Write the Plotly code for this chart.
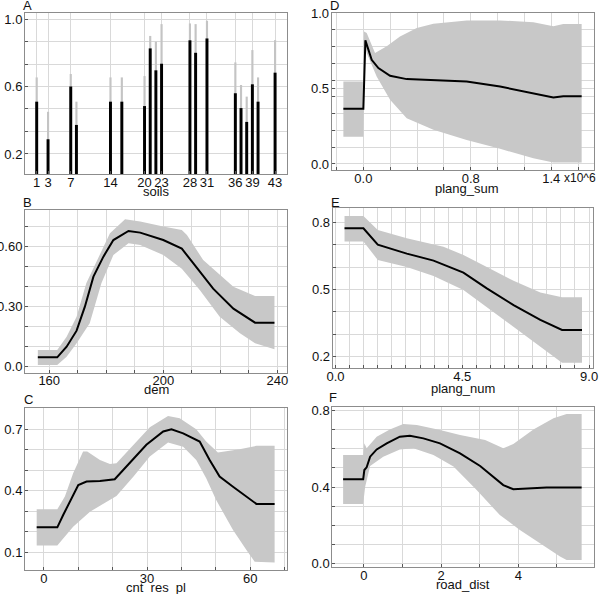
import plotly.graph_objects as go

# ---------------- data ----------------
# Panel A: soils (bar = mean response, gray = upper bound)
soil_cat = [1, 3, 7, 8, 14, 16, 20, 21, 22, 23, 28, 29, 31, 36, 37, 38, 39, 40, 43]
soil_val = [0.51, 0.287, 0.60, 0.372, 0.51, 0.51, 0.484, 0.826, 0.696, 0.735, 0.874, 0.80, 0.885,
            0.56, 0.472, 0.39, 0.613, 0.51, 0.682]
soil_up = [0.654, 0.45, 0.674, 0.51, 0.654, 0.654, 0.662, 0.90, 0.866, 0.97, 0.974, 0.97, 0.99,
           0.743, 0.609, 0.54, 0.816, 0.654, 0.875]
soil_ticks = [1, 3, 7, 14, 20, 23, 28, 31, 36, 39, 43]

# Panel B: dem
dem_x = [156, 162.8, 166.1, 169.6, 172.5, 175.5, 179, 182.5, 187.8, 191.9, 200, 206.5, 210.5, 217.5, 224.6, 232.2, 239]
dem_y = [0.047, 0.047, 0.10, 0.18, 0.30, 0.45, 0.55, 0.633, 0.678, 0.67, 0.633, 0.59, 0.517, 0.39, 0.29, 0.22, 0.22]
dem_up_x = [156, 162.8, 166.1, 169.6, 173, 176.5, 181.3, 186.6, 191.9, 200, 206.5, 208.3, 214, 224.6, 232.2, 239]
dem_up_y = [0.083, 0.083, 0.15, 0.25, 0.417, 0.525, 0.667, 0.737, 0.725, 0.70, 0.683, 0.658, 0.533, 0.40, 0.353, 0.353]
dem_lo_x = [156, 162.8, 166.1, 169.6, 174.2, 178.3, 182.5, 187.8, 191.9, 200, 206.5, 212.8, 219.8, 226.9, 232.2, 239]
dem_lo_y = [0.008, 0.008, 0.05, 0.117, 0.217, 0.417, 0.558, 0.617, 0.608, 0.558, 0.49, 0.383, 0.25, 0.167, 0.117, 0.087]

# Panel C: cnt_res_pl
crp_x = [-2.1, 3.9, 5.6, 7.6, 10, 12.4, 16.3, 20.6, 25, 29.8, 34.7, 37.1, 40.5, 45.3, 48.2, 51.1, 55, 58.9, 61.8, 67.1]
crp_y = [0.222, 0.222, 0.282, 0.347, 0.428, 0.445, 0.448, 0.456, 0.534, 0.624, 0.689, 0.70, 0.68, 0.64, 0.55,
         0.469, 0.42, 0.372, 0.336, 0.336]
crp_up_x = [-2.1, 3.9, 6.1, 8.5, 11.4, 12.6, 16.3, 19.2, 21.1, 26, 30.8, 36.1, 39.5, 44.3, 47.2, 50.6, 56.9, 61.8, 67.1]
crp_up_y = [0.31, 0.31, 0.372, 0.485, 0.591, 0.591, 0.55, 0.531, 0.534, 0.624, 0.71, 0.765, 0.754, 0.70, 0.64,
            0.586, 0.602, 0.619, 0.619]
crp_lo_x = [-2.1, 3.9, 8.5, 13.4, 21.1, 26, 30.8, 36.1, 40.5, 44.3, 47.2, 50.1, 55, 58.9, 61.3, 67.1]
crp_lo_y = [0.133, 0.133, 0.225, 0.298, 0.375, 0.469, 0.567, 0.635, 0.615, 0.55, 0.461, 0.355, 0.209, 0.111,
            0.054, 0.05]

# Panel D: plang_sum (x10^6)
ps_x = [-0.149, 0.0, 0.015, 0.037, 0.062, 0.112, 0.199, 0.323, 0.522, 0.77, 1.019, 1.267, 1.416, 1.49, 1.627]
ps_y = [0.365, 0.365, 0.819, 0.757, 0.69, 0.635, 0.584, 0.562, 0.553, 0.546, 0.513, 0.469, 0.44, 0.449, 0.449]
ps_up_x = [-0.149, 0.0, 0.005, 0.025, 0.087, 0.174, 0.273, 0.398, 0.522, 0.77, 1.019, 1.267, 1.416, 1.49, 1.627]
ps_up_y = [0.546, 0.546, 0.878, 0.867, 0.735, 0.779, 0.845, 0.90, 0.929, 0.951, 0.951, 0.938, 0.912, 0.927, 0.927]
ps_lo_x = [-0.149, 0.0, 0.012, 0.025, 0.099, 0.199, 0.323, 0.522, 0.77, 1.019, 1.267, 1.416, 1.627]
ps_lo_y = [0.181, 0.181, 0.80, 0.735, 0.58, 0.425, 0.303, 0.226, 0.159, 0.10, 0.038, 0.009, 0.009]

# Panel E: plang_num
pn_x = [0.32, 0.99, 1.5, 2.53, 3.48, 4.54, 5.37, 6.32, 7.27, 8.04, 8.75]
pn_y = [0.773, 0.773, 0.70, 0.66, 0.629, 0.575, 0.505, 0.43, 0.364, 0.319, 0.319]
pn_up_x = [0.32, 0.99, 1.5, 2.53, 3.83, 4.54, 5.37, 6.32, 7.27, 8.04, 8.75]
pn_up_y = [0.828, 0.828, 0.766, 0.729, 0.691, 0.654, 0.60, 0.539, 0.486, 0.465, 0.465]
pn_lo_x = [0.32, 0.99, 1.5, 2.53, 3.48, 4.54, 5.37, 6.32, 7.27, 8.04, 8.75]
pn_lo_y = [0.714, 0.714, 0.632, 0.60, 0.56, 0.498, 0.423, 0.334, 0.245, 0.173, 0.173]

# Panel F: road_dist
rd_x = [-0.54, -0.02, 0.01, 0.07, 0.16, 0.33, 0.59, 0.93, 1.19, 1.54, 1.97, 2.49, 3.01, 3.35, 3.61, 3.87, 4.22, 4.73, 5.64]
rd_y = [0.44, 0.44, 0.489, 0.503, 0.559, 0.597, 0.629, 0.664, 0.669, 0.655, 0.629, 0.576, 0.51, 0.454, 0.41,
        0.388, 0.393, 0.398, 0.398]
rd_up_x = [-0.54, -0.02, 0.01, 0.07, 0.33, 0.67, 1.02, 1.37, 1.97, 2.49, 3.14, 3.61, 3.87, 4.39, 4.91, 5.25, 5.64]
rd_up_y = [0.568, 0.568, 0.629, 0.603, 0.664, 0.702, 0.73, 0.725, 0.699, 0.672, 0.646, 0.603, 0.625, 0.702,
           0.76, 0.783, 0.783]
rd_lo_x = [-0.54, -0.02, 0.03, 0.16, 0.5, 0.93, 1.28, 1.8, 2.32, 2.92, 3.52, 4.04, 4.56, 5.08, 5.25, 5.64]
rd_lo_y = [0.311, 0.311, 0.40, 0.51, 0.559, 0.597, 0.603, 0.568, 0.507, 0.384, 0.253, 0.175, 0.105, 0.035,
           0.017, 0.017]

# ---------------- styling ----------------
W, H = 600, 594
FONT = "Liberation Sans, Arial, sans-serif"
BAND = "#c8c8c8"
GRID = "#d9d9d9"
FRAME = "#8c8c8c"


def px(x):
    return x / W


def py(y):
    return 1 - y / H


fig = go.Figure()

panels = {
    "A": dict(box=(25, 13, 287, 174), xr=[-1.06, 45.1], yr=[0.081, 1.036],
              xt=soil_ticks, xtt=[str(v) for v in soil_ticks],
              yt=[0.2, 0.6, 1.0], ytt=["0.2", "0.6", "1.0"],
              ygrid=(0.2, 0.4 / 3), xgrid=None),
    "B": dict(box=(25, 210, 287, 372.7), xr=[151.5, 243.4], yr=[-0.03, 0.783],
              xt=[160, 200, 240], xtt=["160", "200", "240"],
              yt=[0.0, 0.3, 0.6], ytt=["0.0", "0.30", "0.60"],
              ygrid=(0.0, 0.1), xgrid=(160, 10)),
    "C": dict(box=(25, 408.3, 287, 570), xr=[-5.5, 70.7], yr=[0.014, 0.802],
              xt=[0, 30, 60], xtt=["0", "30", "60"],
              yt=[0.1, 0.4, 0.7], ytt=["0.1", "0.4", "0.7"],
              ygrid=(0.1, 0.1), xgrid=(0, 10)),
    "D": dict(box=(331.7, 13, 594, 170), xr=[-0.236, 1.719], yr=[-0.04, 1.0],
              xt=[0.0, 0.8, 1.4], xtt=["0.0", "0.8", "1.4"],
              yt=[0.0, 0.5, 1.0], ytt=["0.0", "0.5", "1.0"],
              ygrid=(0.0, 1 / 9), xgrid=(0.0, 0.2)),
    "E": dict(box=(332.7, 208.3, 593.3, 368.3), xr=[-0.1, 9.15], yr=[0.148, 0.8625],
              xt=[0.0, 4.5, 9.0], xtt=["0.0", "4.5", "9.0"],
              yt=[0.2, 0.5, 0.8], ytt=["0.2", "0.5", "0.8"],
              ygrid=(0.2, 0.1), xgrid=(0.0, 0.5)),
    "F": dict(box=(332.3, 406.7, 594, 567.3), xr=[-0.82, 5.96], yr=[-0.021, 0.821],
              xt=[0, 2, 4], xtt=["0", "2", "4"],
              yt=[0.0, 0.4, 0.8], ytt=["0.0", "0.4", "0.8"],
              ygrid=(0.0, 0.1), xgrid=(0, 1)),
}

order = ["A", "B", "C", "D", "E", "F"]
for i, name in enumerate(order):
    p = panels[name]
    l, t, r, b = p["box"]
    sfx = "" if i == 0 else str(i + 1)
    xa = dict(domain=[px(l), px(r)], range=p["xr"], anchor="y" + sfx, automargin=False,
              tickmode="array", tickvals=p["xt"], ticktext=p["xtt"],
              showgrid=True, gridcolor=GRID, gridwidth=1, zeroline=False,
              showline=True, mirror=True, linecolor=FRAME, linewidth=1,
              ticks="inside", ticklen=3, tickcolor="#555555", ticklabelstandoff=-4,
              tickfont=dict(family=FONT, size=13, color="#111111"))
    if p["xgrid"] is not None:
        xa["minor"] = dict(tickmode="linear", tick0=p["xgrid"][0], dtick=p["xgrid"][1],
                           showgrid=True, gridcolor=GRID, gridwidth=1,
                           ticks="inside", ticklen=3, tickcolor="#555555")
    ya = dict(domain=[py(b), py(t)], range=p["yr"], anchor="x" + sfx, automargin=False,
              tickmode="array", tickvals=p["yt"], ticktext=p["ytt"],
              showgrid=True, gridcolor=GRID, gridwidth=1, zeroline=False,
              showline=True, mirror=True, linecolor=FRAME, linewidth=1,
              ticks="inside", ticklen=3, tickcolor="#555555", ticklabelstandoff=-1,
              tickfont=dict(family=FONT, size=13, color="#111111"),
              minor=dict(tickmode="linear", tick0=p["ygrid"][0], dtick=p["ygrid"][1],
                         showgrid=True, gridcolor=GRID, gridwidth=1,
                         ticks="inside", ticklen=3, tickcolor="#555555"))
    fig.update_layout(**{"xaxis" + sfx: xa, "yaxis" + sfx: ya})

# Panel A bars
fig.add_trace(go.Bar(x=soil_cat, y=soil_up, width=0.38, marker=dict(color="#c4c4c4", line=dict(width=0)),
                     xaxis="x", yaxis="y", showlegend=False))
fig.add_trace(go.Bar(x=soil_cat, y=soil_val, width=0.52, marker=dict(color="#000000", line=dict(width=0)),
                     xaxis="x", yaxis="y", showlegend=False))


def add_band(ax, ay, ux, uy, lx, ly, mx, my):
    fig.add_trace(go.Scatter(x=list(ux) + list(lx)[::-1], y=list(uy) + list(ly)[::-1],
                             fill="toself", fillcolor=BAND, mode="lines", line=dict(width=0, color=BAND),
                             xaxis=ax, yaxis=ay, showlegend=False, hoverinfo="skip"))
    fig.add_trace(go.Scatter(x=mx, y=my, mode="lines", line=dict(color="#000000", width=2),
                             xaxis=ax, yaxis=ay, showlegend=False))


add_band("x2", "y2", dem_up_x, dem_up_y, dem_lo_x, dem_lo_y, dem_x, dem_y)
add_band("x3", "y3", crp_up_x, crp_up_y, crp_lo_x, crp_lo_y, crp_x, crp_y)
add_band("x4", "y4", ps_up_x, ps_up_y, ps_lo_x, ps_lo_y, ps_x, ps_y)
add_band("x5", "y5", pn_up_x, pn_up_y, pn_lo_x, pn_lo_y, pn_x, pn_y)
add_band("x6", "y6", rd_up_x, rd_up_y, rd_lo_x, rd_lo_y, rd_x, rd_y)

ann = []
letters = [("A", 27, 6), ("B", 27, 203), ("C", 28, 399), ("D", 334, 5), ("E", 335, 202), ("F", 333, 398)]
for txt, x, y in letters:
    ann.append(dict(text=txt, x=px(x), y=py(y), xref="paper", yref="paper", showarrow=False,
                    xanchor="center", yanchor="middle", font=dict(family=FONT, size=13, color="#111111")))
titles = [("soils", 156, 191), ("dem", 156, 389), ("cnt_res_pl", 156, 587),
          ("plang_sum", 467, 189), ("plang_num", 463, 388), ("road_dist", 463, 584)]
for txt, x, y in titles:
    ann.append(dict(text=txt, x=px(x), y=py(y), xref="paper", yref="paper", showarrow=False,
                    xanchor="center", yanchor="middle", font=dict(family=FONT, size=13, color="#111111")))
ann.append(dict(text="x10^6", x=px(598), y=py(178), xref="paper", yref="paper", showarrow=False,
                xanchor="right", yanchor="middle", font=dict(family=FONT, size=12, color="#111111")))

fig.update_layout(width=W, height=H, margin=dict(l=0, r=0, t=0, b=0, autoexpand=False),
                  paper_bgcolor="white", plot_bgcolor="white", barmode="overlay",
                  annotations=ann, showlegend=False)

fig.write_html("out.html", config={"displayModeBar": False},
               post_script="document.body.style.margin='0';document.body.style.padding='0';")
